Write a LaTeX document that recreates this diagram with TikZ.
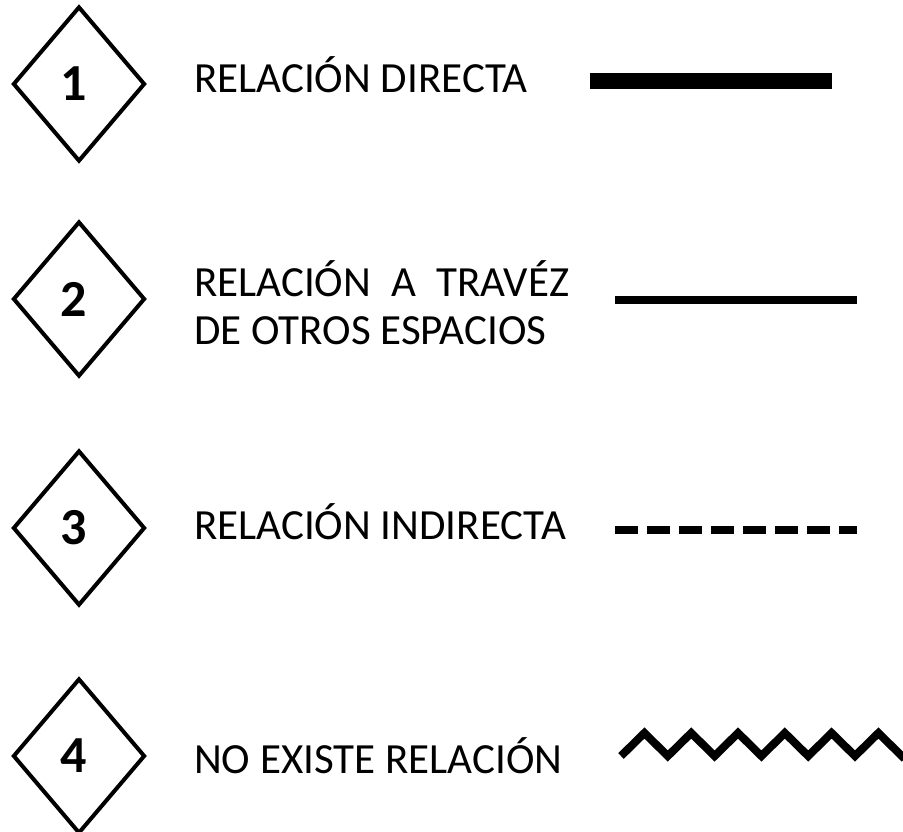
\documentclass[tikz,border=0pt]{standalone}
\usepackage{fontspec}
\setmainfont{Carlito}
\usetikzlibrary{shapes.geometric}
\begin{document}
\begin{tikzpicture}[x=1pt,y=-1pt,
  dia/.style={draw, line width=4pt, shape=diamond, minimum width=132pt, minimum height=155pt, inner sep=0pt},
  num/.style={font=\fontsize{52}{52}\selectfont\bfseries, inner sep=0pt},
  lbl/.style={font=\fontsize{43}{48}\selectfont, inner sep=0pt, anchor=base west},
  leg/.style={line cap=butt}
]
\useasboundingbox (0,0) rectangle (903,832);
% diamonds
\node[dia] (d1) at (79,84) {};
\node[dia] (d2) at (79,299) {};
\node[dia] (d3) at (79,528) {};
\node[dia] (d4) at (79,756) {};
\node[num] (n1) at ([xshift=-5pt]d1.center) {1};
\node[num] (n2) at ([xshift=-5pt]d2.center) {2};
\node[num] (n3) at ([xshift=-5pt]d3.center) {3};
\node[num] (n4) at ([xshift=-5pt]d4.center) {4};
% labels
\node[lbl] (t1) at (194,93) {RELACIÓN DIRECTA};
\node[lbl] (t2) at (194,296) {\vtop{\baselineskip=48pt\hbox to 375pt{RELACIÓN\hfill A\hfill TRAVÉZ}\hbox{DE OTROS ESPACIOS}}};
\node[lbl] (t3) at (194,539) {RELACIÓN INDIRECTA};
\node[lbl] (t4) at (194,773) {NO EXISTE RELACIÓN};
% legend lines
\coordinate (a1) at (590,81);  \coordinate (b1) at (832,81);
\coordinate (a2) at (615,300); \coordinate (b2) at (857,300);
\coordinate (a3) at (615,530); \coordinate (b3) at (857,530);
\coordinate (a4) at (621,756); \coordinate (b4) at (903,754.8);
\draw[leg, line width=16pt] (a1) -- (b1);
\draw[leg, line width=8pt] (a2) -- (b2);
\draw[leg, line width=8pt, dash pattern=on 23pt off 9pt] (a3) -- (b3);
\draw[leg, line width=8pt, line join=miter] (a4)
  -- (644.4,733) -- (667.8,756) -- (691.2,733) -- (714.6,756)
  -- (738,733) -- (761.4,756) -- (784.8,733) -- (808.2,756)
  -- (831.6,733) -- (855,756) -- (878.4,733) -- (901.8,756) -- (b4);
\end{tikzpicture}
\end{document}
